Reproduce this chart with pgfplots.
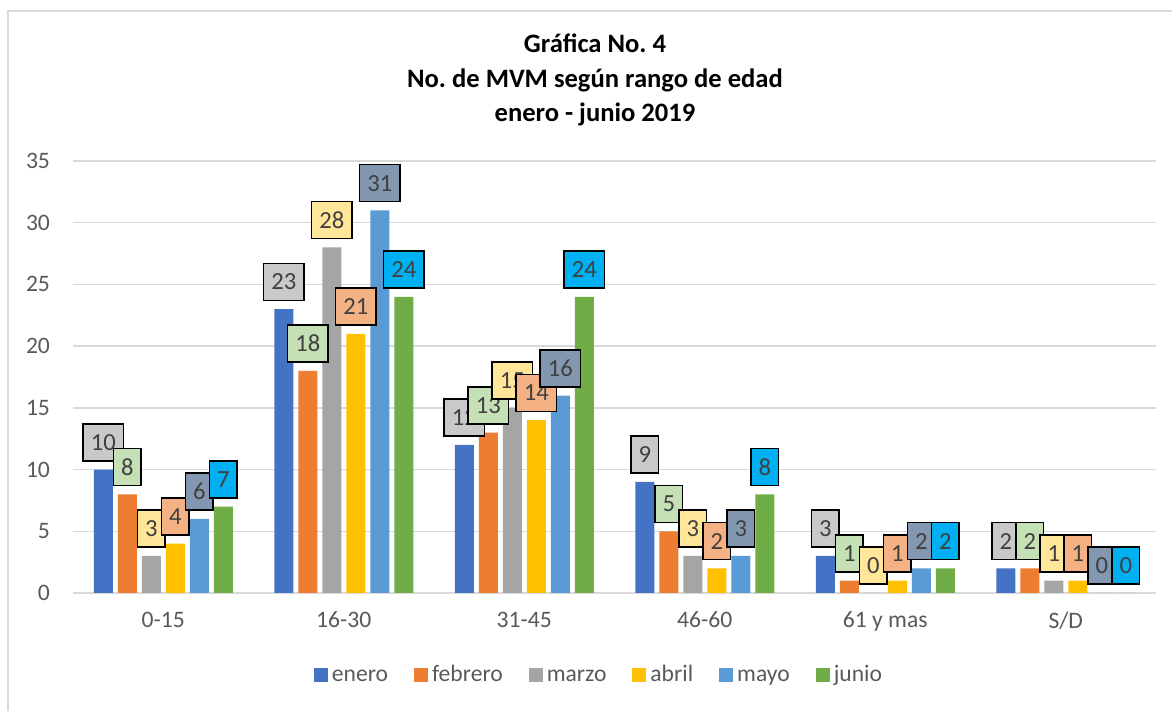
\documentclass[border=0pt]{standalone}
\usepackage{fontspec}
\setmainfont{Carlito}
\usepackage{pgfplots}
\pgfplotsset{compat=1.18}
\definecolor{cEne}{HTML}{4472C4}
\definecolor{cFeb}{HTML}{ED7D31}
\definecolor{cMar}{HTML}{A5A5A5}
\definecolor{cAbr}{HTML}{FFC000}
\definecolor{cMay}{HTML}{5B9BD5}
\definecolor{cJun}{HTML}{70AD47}
\definecolor{lEne}{HTML}{C9C9C9}
\definecolor{lFeb}{HTML}{C5E0B4}
\definecolor{lMar}{HTML}{FFE699}
\definecolor{lAbr}{HTML}{F4B183}
\definecolor{lMay}{HTML}{8497B0}
\definecolor{lJun}{HTML}{00B0F0}
\definecolor{gridc}{HTML}{D9D9D9}
\definecolor{tickc}{HTML}{595959}
\definecolor{lblt}{HTML}{404040}
\frenchspacing
\begin{document}
\frenchspacing
\begin{tikzpicture}
\useasboundingbox (0pt,0pt) rectangle (586pt,355.5pt);
\draw[gridc, line width=0.75pt] (4pt,0pt) -- (4pt,350pt) -- (586pt,350pt);
\node[align=center, font=\fontsize{13.3}{17.3}\selectfont\bfseries\frenchspacing] at (297.5pt,315.5pt) {Gráfica No. 4\\No. de MVM según rango de edad\\enero - junio 2019};
\begin{axis}[
  at={(36.5pt,59pt)}, anchor=south west,
  scale only axis, width=541.5pt, height=216pt,
  ymin=0, ymax=35, ytick={0,5,...,35},
  xmin=-0.5, xmax=5.5, xtick={0,1,2,3,4,5},
  xticklabels={0-15,16-30,31-45,46-60,61 y mas,S/D},
  axis line style={draw=none},
  major tick length=0pt,
  ymajorgrids, grid style={gridc, line width=0.75pt},
  tick label style={font=\fontsize{11.8}{14}\selectfont, text=tickc},
  y tick label style={xshift=-8pt},
  x tick label style={yshift=-6pt},
  /pgf/number format/assume math mode=true,
  ybar, bar width=9.5pt,
  clip=false,
  every node near coord/.append style={anchor=south, yshift=4pt, draw=black, line width=0.75pt, text=lblt, font=\fontsize{12.3}{14}\selectfont, inner xsep=3.8pt, inner ysep=0pt, minimum height=18.5pt},
  legend style={at={(axis description cs:0.4866,-0.19)}, anchor=center, draw=none, fill=none, legend columns=6, font=\fontsize{11.8}{14}\selectfont, text=tickc, nodes={text height=8.5pt, text depth=2.5pt}, /tikz/every even column/.append style={column sep=11pt}},
  legend image code/.code={\fill[#1] (0pt,-3.5pt) rectangle (7pt,3.5pt);},
]
\addplot[fill=cEne, draw=none, bar shift=-30pt] coordinates {(0,10)(1,23)(2,12)(3,9)(4,3)(5,2)};
\addplot[fill=cFeb, draw=none, bar shift=-18pt] coordinates {(0,8)(1,18)(2,13)(3,5)(4,1)(5,2)};
\addplot[fill=cMar, draw=none, bar shift=-6pt] coordinates {(0,3)(1,28)(2,15)(3,3)(4,0)(5,1)};
\addplot[fill=cAbr, draw=none, bar shift=6pt] coordinates {(0,4)(1,21)(2,14)(3,2)(4,1)(5,1)};
\addplot[fill=cMay, draw=none, bar shift=18pt] coordinates {(0,6)(1,31)(2,16)(3,3)(4,2)(5,0)};
\addplot[fill=cJun, draw=none, bar shift=30pt] coordinates {(0,7)(1,24)(2,24)(3,8)(4,2)(5,0)};
\legend{enero,febrero,marzo,abril,mayo,junio}
\addplot[draw=none, fill=none, forget plot, bar shift=-30pt, nodes near coords, every node near coord/.append style={fill=lEne}] coordinates {(0,10)(1,23)(2,12)(3,9)(4,3)(5,2)};
\addplot[draw=none, fill=none, forget plot, bar shift=-18pt, nodes near coords, every node near coord/.append style={fill=lFeb}] coordinates {(0,8)(1,18)(2,13)(3,5)(4,1)(5,2)};
\addplot[draw=none, fill=none, forget plot, bar shift=-6pt, nodes near coords, every node near coord/.append style={fill=lMar}] coordinates {(0,3)(1,28)(2,15)(3,3)(4,0)(5,1)};
\addplot[draw=none, fill=none, forget plot, bar shift=6pt, nodes near coords, every node near coord/.append style={fill=lAbr}] coordinates {(0,4)(1,21)(2,14)(3,2)(4,1)(5,1)};
\addplot[draw=none, fill=none, forget plot, bar shift=18pt, nodes near coords, every node near coord/.append style={fill=lMay}] coordinates {(0,6)(1,31)(2,16)(3,3)(4,2)(5,0)};
\addplot[draw=none, fill=none, forget plot, bar shift=30pt, nodes near coords, every node near coord/.append style={fill=lJun}] coordinates {(0,7)(1,24)(2,24)(3,8)(4,2)(5,0)};
\end{axis}
\end{tikzpicture}
\end{document}
